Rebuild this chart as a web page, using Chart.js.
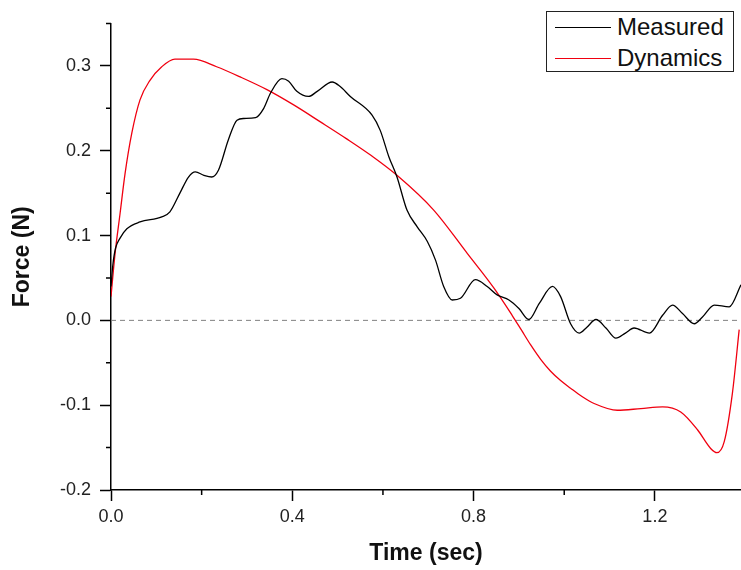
<!DOCTYPE html>
<html>
<head>
<meta charset="utf-8">
<script src="https://cdn.jsdelivr.net/npm/chart.js@4.4.1/dist/chart.umd.min.js"></script>
<style>
  html, body { margin: 0; padding: 0; background: #fff; }
  #wrap { position: relative; width: 741px; height: 570px; }
  #legend {
    position: absolute; left: 546px; top: 11px; width: 186px; height: 59px;
    border: 1.5px solid #222; background: #fff;
    font-family: "Liberation Sans", Arial, sans-serif; font-size: 24px; color: #111;
  }
  #legend .row { position: absolute; left: 0; height: 30px; width: 100%; }
  #legend .swatch { position: absolute; left: 8px; top: 15px; width: 56px; height: 0; border-top: 1.5px solid; }
  #legend .label { position: absolute; left: 70px; top: 1px; line-height: 28px; white-space: nowrap; }
</style>
</head>
<body>
<div id="wrap">
  <canvas id="chart"></canvas>
  <div id="legend"></div>
</div>
<script>
// values (time in sec, force in N)
const measuredTime = [0.000, 0.004, 0.010, 0.020, 0.035, 0.064, 0.112, 0.130, 0.152, 0.171, 0.186, 0.205, 0.222, 0.237,
  0.259, 0.278, 0.293, 0.319, 0.337, 0.352, 0.377, 0.392, 0.410, 0.436, 0.455, 0.488, 0.505, 0.528, 0.576, 0.594,
  0.613, 0.631, 0.653, 0.676, 0.698, 0.716, 0.734, 0.753, 0.771, 0.804, 0.830, 0.852, 0.878, 0.900, 0.922, 0.945,
  0.974, 0.992, 1.014, 1.033, 1.050, 1.070, 1.092, 1.114, 1.135, 1.154, 1.188, 1.217, 1.239, 1.261, 1.287, 1.305,
  1.331, 1.364, 1.390];
const measuredForce = [0.040, 0.065, 0.085, 0.097, 0.108, 0.116, 0.122, 0.128, 0.150, 0.169, 0.175, 0.171, 0.169, 0.177,
  0.213, 0.236, 0.238, 0.239, 0.250, 0.268, 0.285, 0.282, 0.270, 0.264, 0.270, 0.281, 0.276, 0.264, 0.242, 0.224,
  0.193, 0.169, 0.130, 0.110, 0.093, 0.071, 0.040, 0.024, 0.026, 0.048, 0.040, 0.030, 0.024, 0.014, 0.001, 0.020,
  0.040, 0.028, -0.004, -0.015, -0.008, 0.001, -0.009, -0.021, -0.015, -0.009, -0.015, 0.006, 0.018, 0.008, -0.004, 0.004,
  0.018, 0.016, 0.042];
const dynamicsTime = [0.000, 0.009, 0.020, 0.031, 0.046, 0.064, 0.086, 0.112, 0.141, 0.182, 0.233, 0.285, 0.344, 0.403,
  0.462, 0.520, 0.575, 0.631, 0.712, 0.786, 0.845, 0.885, 0.905, 0.926, 0.948, 0.970, 0.992, 1.014, 1.040, 1.066,
  1.117, 1.169, 1.217, 1.257, 1.294, 1.323, 1.337, 1.353, 1.371, 1.386];
const dynamicsForce = [0.028, 0.079, 0.126, 0.173, 0.221, 0.260, 0.283, 0.299, 0.308, 0.308, 0.299, 0.287, 0.272, 0.254,
  0.234, 0.214, 0.194, 0.171, 0.130, 0.079, 0.038, 0.006, -0.011, -0.029, -0.046, -0.060, -0.071, -0.080, -0.090, -0.098,
  -0.106, -0.104, -0.102, -0.108, -0.129, -0.151, -0.156, -0.143, -0.086, -0.011];

const xRange = [0, 1.39];
const yRange = [-0.2, 0.35];
const xTicks = [0, 0.4, 0.8, 1.2];
const yTicks = [-0.2, -0.1, 0, 0.1, 0.2, 0.3];
const xMinor = [0.2, 0.6, 1.0];
const yMinor = [-0.15, -0.05, 0.05, 0.15, 0.25, 0.35];

const font = '"Liberation Sans", Arial, sans-serif';
const pts = (xs, ys) => xs.map((x, i) => ({ x, y: ys[i] }));

const minorTicks = {
  id: 'minorTicks',
  afterDraw(chart) {
    const { ctx, scales: { x, y } } = chart;
    ctx.save();
    ctx.strokeStyle = '#000';
    ctx.lineWidth = 1.5;
    ctx.beginPath();
    yMinor.forEach(v => {
      const py = y.getPixelForValue(v);
      ctx.moveTo(y.right - 5, py); ctx.lineTo(y.right, py);
    });
    xMinor.forEach(v => {
      const px = x.getPixelForValue(v);
      ctx.moveTo(px, x.top); ctx.lineTo(px, x.top + 5);
    });
    ctx.stroke();
    ctx.restore();
  }
};

const chart = new Chart(document.getElementById('chart'), {
  type: 'line',
  data: {
    datasets: [
      { label: 'Measured', data: pts(measuredTime, measuredForce), borderColor: '#000', borderWidth: 1.3,
        pointRadius: 0, cubicInterpolationMode: 'monotone' },
      { label: 'Dynamics', data: pts(dynamicsTime, dynamicsForce), borderColor: '#f00010', borderWidth: 1.3,
        pointRadius: 0, cubicInterpolationMode: 'monotone' },
      { label: 'zero', data: pts(xRange, [0, 0]), borderColor: '#808080', borderWidth: 1,
        borderDash: [5, 4], pointRadius: 0 }
    ]
  },
  options: {
    responsive: true,
    maintainAspectRatio: false,
    animation: false,
    layout: { padding: { top: 23.5, right: 0, left: 0, bottom: 0 } },
    plugins: { legend: { display: false }, tooltip: { enabled: false } },
    scales: {
      x: {
        type: 'linear', min: xRange[0], max: xRange[1],
        afterBuildTicks: s => { s.ticks = xTicks.map(value => ({ value })); },
        afterFit: s => { s.height = 80; },
        grid: { display: true, drawOnChartArea: false, drawTicks: true, tickLength: 11, tickColor: '#000', tickWidth: 1.5 },
        border: { display: true, color: '#000', width: 1.5 },
        ticks: { color: '#222', padding: 5, font: { family: font, size: 18 }, callback: v => v.toFixed(1) },
        title: { display: true, text: 'Time (sec)', color: '#111', padding: { top: 0, bottom: 3 },
          font: { family: font, size: 23, weight: 'bold' } }
      },
      y: {
        type: 'linear', min: yRange[0], max: yRange[1],
        afterBuildTicks: s => { s.ticks = yTicks.map(value => ({ value })); },
        afterFit: s => { s.width = 111; },
        grid: { display: true, drawOnChartArea: false, drawTicks: true, tickLength: 11, tickColor: '#000', tickWidth: 1.5 },
        border: { display: true, color: '#000', width: 1.5 },
        ticks: { color: '#222', padding: 9, font: { family: font, size: 18 }, callback: v => v.toFixed(1) },
        title: { display: true, text: 'Force (N)', color: '#111', padding: { top: 9, bottom: 0 },
          font: { family: font, size: 23, weight: 'bold' } }
      }
    }
  },
  plugins: [minorTicks]
});

// html legend built from the first two datasets
document.getElementById('legend').innerHTML = chart.data.datasets.slice(0, 2).map((d, i) => `
  <div class="row" style="top:${i * 30.5}px">
    <span class="swatch" style="border-color:${d.borderColor}"></span>
    <span class="label">${d.label}</span>
  </div>`).join('');
</script>
</body>
</html>
